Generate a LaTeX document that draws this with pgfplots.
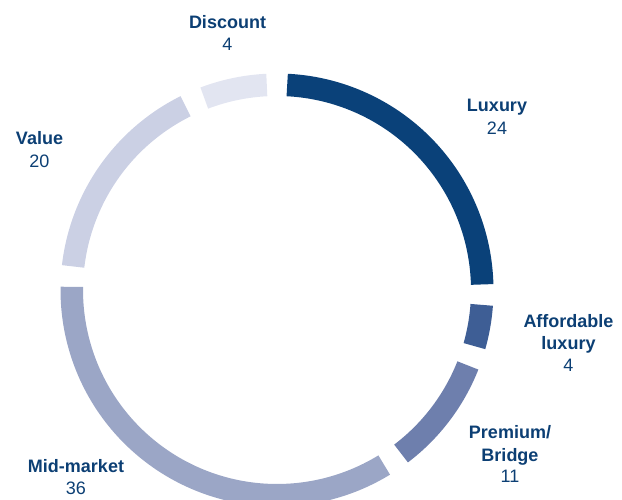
\documentclass[border=0pt]{standalone}
\usepackage{fontspec}
\setmainfont{Liberation Sans}
\usepackage{pgfplots}
\pgfplotsset{compat=1.18}
\usepackage{pgfplotstable}

\definecolor{cLux}{HTML}{0A4179}
\definecolor{cAff}{HTML}{3E5E95}
\definecolor{cPre}{HTML}{6E7FAD}
\definecolor{cMid}{HTML}{9BA6C6}
\definecolor{cVal}{HTML}{CBD0E4}
\definecolor{cDis}{HTML}{E2E5F1}
\definecolor{cTxt}{HTML}{0C3F74}

% share of the ring drawn for each segment (clockwise from the top)
\pgfplotstableread{
seg share
Luxury 26.3
Affordable 3.6
Premium 9.6
Midmarket 37.6
Value 17.5
Discount 5.5
}\shares

\begin{document}
\begin{tikzpicture}
\pgfmathsetmacro\gap{5.7}
\xdef\cum{0}
\foreach \i in {0,...,5}{%
  \pgfplotstablegetelem{\i}{share}\of\shares
  \pgfmathsetmacro\c{\cum+\pgfplotsretval}%
  \xdef\cum{\c}%
}
\pgfmathsetmacro\avail{360-6*\gap}
\pgfmathsetmacro\startang{90-\gap/2}
\xdef\cur{\startang}
\foreach \i in {0,...,5}{%
  \pgfplotstablegetelem{\i}{share}\of\shares
  \pgfmathsetmacro\e{\cur-\pgfplotsretval/\cum*\avail}%
  \expandafter\xdef\csname aS\i\endcsname{\cur}%
  \expandafter\xdef\csname aE\i\endcsname{\e}%
  \pgfmathsetmacro\n{\e-\gap}%
  \xdef\cur{\n}%
}
\newcommand\seg[2]{%
  \edef\tmp{\noexpand\addplot[draw=#2, line width=22.5pt, samples=120,
    domain=\csname aE#1\endcsname:\csname aS#1\endcsname, variable=\noexpand\t]}%
  \tmp ({277+205.25*cos(\t)},{210+205.25*sin(\t)});%
}
\begin{axis}[at={(0,0)}, anchor=south west, scale only axis,
  width=622pt, height=500pt, xmin=0, xmax=622, ymin=0, ymax=500,
  hide axis, clip=true]
\seg{0}{cLux}
\seg{1}{cAff}
\seg{2}{cPre}
\seg{3}{cMid}
\seg{4}{cVal}
\seg{5}{cDis}

\tikzset{lb/.style={anchor=base, inner sep=0pt, text=cTxt, font=\fontsize{18pt}{22pt}\selectfont\bfseries},
         nb/.style={anchor=base, inner sep=0pt, text=cTxt, font=\fontsize{18pt}{22pt}\selectfont}}
\node[lb] at (axis cs:227.5,471) {Discount};
\node[nb] at (axis cs:227.5,449) {4};
\node[lb] at (axis cs:497,388.3) {Luxury};
\node[nb] at (axis cs:497,365.7) {24};
\node[lb] at (axis cs:568.5,172) {Affordable};
\node[lb] at (axis cs:568.5,150) {luxury};
\node[nb] at (axis cs:568.5,128) {4};
\node[lb] at (axis cs:510,61) {Premium/};
\node[lb] at (axis cs:510,38.5) {Bridge};
\node[nb] at (axis cs:510,17) {11};
\node[lb] at (axis cs:76,27) {Mid-market};
\node[nb] at (axis cs:76,5) {36};
\node[lb] at (axis cs:39.5,355) {Value};
\node[nb] at (axis cs:39.5,332.7) {20};
\end{axis}
\pgfresetboundingbox
\useasboundingbox (0,0) rectangle (622pt,500pt);
\end{tikzpicture}
\end{document}
